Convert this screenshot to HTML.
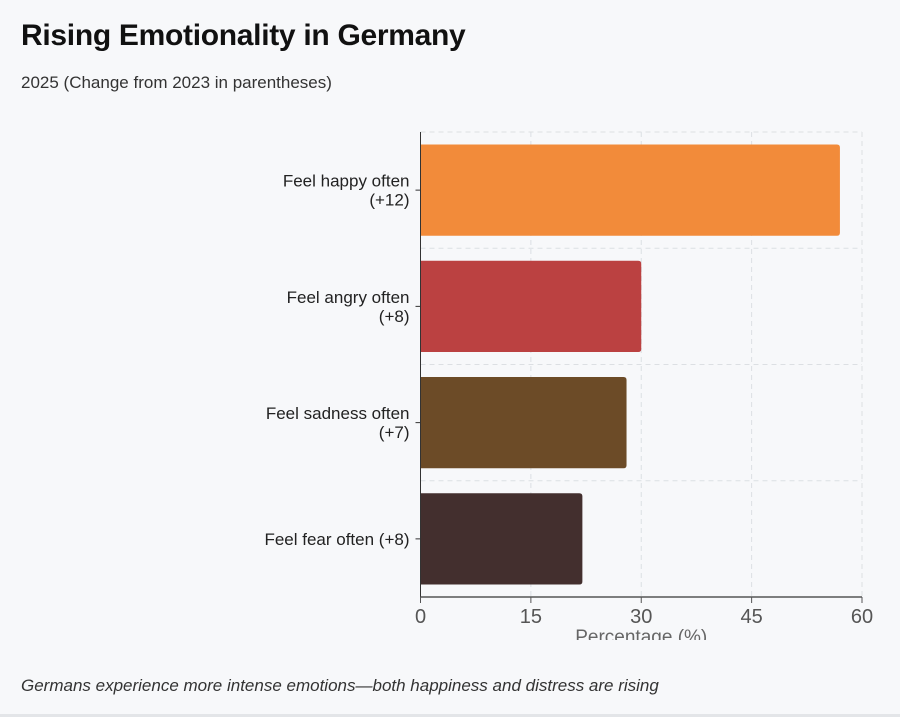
<!DOCTYPE html>
<html><head><meta charset="utf-8"><style>
body{margin:0;background:#f7f8fa;font-family:"Liberation Sans",sans-serif;}
#wrap{position:relative;width:900px;height:717px;overflow:hidden;background:#f7f8fa;}
h1{position:absolute;left:21px;top:19px;margin:0;font-size:30px;font-weight:bold;color:#111;letter-spacing:-0.3px}
.sub{position:absolute;left:21px;top:73px;font-size:17px;color:#333}
.foot{position:absolute;left:21px;top:676px;font-size:17px;font-style:italic;color:#333}
.line{position:absolute;left:0;top:714px;width:900px;height:3px;background:#e3e5e8}
</style></head><body>
<div id="wrap">
<h1>Rising Emotionality in Germany</h1>
<div class="sub">2025 (Change from 2023 in parentheses)</div>
<svg id="chart" width="900" height="717" style="position:absolute;left:0;top:0"><defs><clipPath id="clipb"><rect x="0" y="0" width="900" height="640"/></clipPath></defs></svg>
<div class="foot">Germans experience more intense emotions—both happiness and distress are rising</div>
<div class="line"></div>
</div>
<script>
const categories=[["Feel happy often","(+12)"],["Feel angry often","(+8)"],["Feel sadness often","(+7)"],["Feel fear often (+8)"]];
const values=[57,30,28,22];
const colors=["#f28b3a","#bb4141","#6c4b27","#432f2e"];
const ticks=[0,15,30,45,60];
const NS="http://www.w3.org/2000/svg";
const svg=document.getElementById('chart');
const x0=420.5,x1=862,yTop=132,yBot=597;
const xs=v=>x0+(v-0)/(60-0)*(x1-x0);
const band=(yBot-yTop)/categories.length;
function mk(t,a,p){const e=document.createElementNS(NS,t);for(const k in a)e.setAttribute(k,a[k]);(p||svg).appendChild(e);return e;}
ticks.forEach(t=>{if(t===0)return;
const g=mk('line',{x1:xs(t),x2:xs(t),y1:yTop,y2:yBot,stroke:'#dcdfe3','stroke-dasharray':'5,4'});

});
categories.forEach((c,i)=>{const y=yTop+band*(i+1);if(i===categories.length-1)return;
const g=mk('line',{x1:x0,x2:x1,y1:y,y2:y,stroke:'#dcdfe3','stroke-dasharray':'5,4'});

});
const gt=mk('line',{x1:x0,x2:x1,y1:yTop,y2:yTop,stroke:'#dcdfe3','stroke-dasharray':'5,4'});


values.forEach((v,i)=>{const yc=yTop+band*(i+0.5),h=band*0.785;
const r=mk('path',{d:`M${x0},${yc-h/2}H${xs(v)-3}Q${xs(v)},${yc-h/2} ${xs(v)},${yc-h/2+3}V${yc+h/2-3}Q${xs(v)},${yc+h/2} ${xs(v)-3},${yc+h/2}H${x0}Z`,fill:colors[i]});


const c=categories[i];
const tk=mk('line',{x1:x0-5,x2:x0,y1:yc,y2:yc,stroke:'#333'});


const t=mk('text',{x:x0-11,'text-anchor':'end','font-size':17,fill:'#222'});


c.forEach((s,j)=>{const ts=mk('tspan',{x:x0-11,y:yc+6+(j-(c.length-1)/2)*19},t);ts.textContent=s;});
});
const ya=mk('line',{x1:x0,x2:x0,y1:yTop,y2:yBot,stroke:'#333'});


const xa=mk('line',{x1:x0,x2:x1,y1:yBot,y2:yBot,stroke:'#555','stroke-width':1.5});


ticks.forEach(t=>{const tl=mk('line',{x1:xs(t),x2:xs(t),y1:yBot,y2:yBot+6,stroke:'#555'});


const l=mk('text',{x:xs(t),y:yBot+26,'text-anchor':'middle','font-size':20,fill:'#555'});


l.textContent=t;});
const at=mk('text',{x:(x0+x1)/2,y:yBot+46,'text-anchor':'middle','font-size':19,fill:'#666','clip-path':'url(#clipb)'});


at.textContent='Percentage (%)';
</script>
</body></html>
